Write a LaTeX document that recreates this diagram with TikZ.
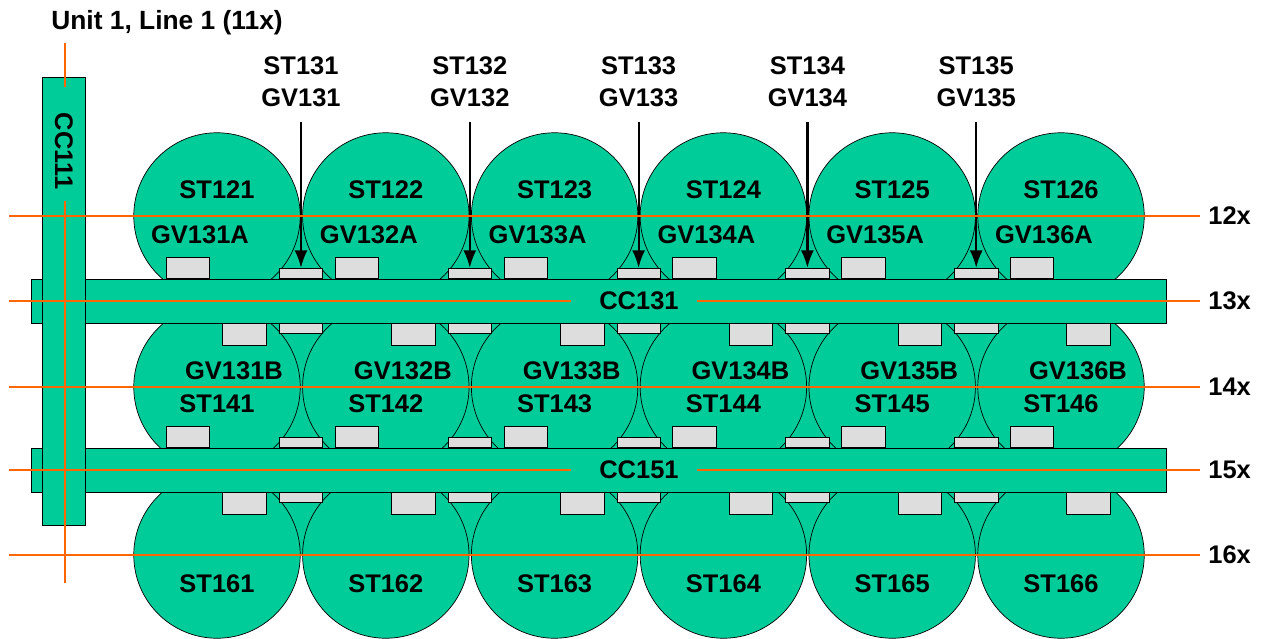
\documentclass[tikz,border=0pt]{standalone}
\usepackage{fontspec}
\setmainfont{Liberation Sans}
\usetikzlibrary{arrows.meta}
\definecolor{tankgreen}{HTML}{00CC99}
\definecolor{wireorange}{HTML}{FF6600}
\definecolor{valvegrey}{HTML}{DDDDDD}
\tikzset{line width=1.25pt,
  every node/.style={font=\bfseries\fontsize{14.5pt}{18pt}\selectfont,inner sep=0pt},
  tank/.style={circle,draw=black,fill=tankgreen,minimum size=3.33cm},
  valve/.style={draw=black,fill=valvegrey,minimum width=.87cm,minimum height=.43cm},
  smallvalve/.style={draw=black,fill=valvegrey,minimum width=.87cm,minimum height=.21cm},
  bar/.style={draw=black,fill=tankgreen,minimum width=22.7cm,minimum height=.88cm},
  column/.style={draw=black,fill=tankgreen,minimum width=.87cm,minimum height=8.96cm},
  wire/.style={draw=wireorange,line width=1.4pt},
  feed/.style={-{Latex[length=10pt,width=7.4pt]},line width=1.25pt}}
\begin{document}
\begin{tikzpicture}[x=.02cm,y=-.02cm]
\path[use as bounding box] (0,0) rectangle (1265,639);
% green between the tanks
\foreach \i in {1,...,5}{
  \pgfmathsetmacro\cx{301.5+168.8*(\i-1)}
  \fill[tankgreen] (\cx-30,216) rectangle (\cx+30,555);
}
% tanks
\foreach \i in {1,...,6}{
  \pgfmathsetmacro\cx{217+168.8*(\i-1)}
  \node[tank] (t12\i) at (\cx,216) {};
  \node[tank] (t14\i) at (\cx,387) {};
  \node[tank] (t16\i) at (\cx,555) {};
}
% valves on the tanks
\foreach \i in {1,...,6}{
  \pgfmathsetmacro\cx{188+168.8*(\i-1)}
  \pgfmathsetmacro\dx{244.5+168.8*(\i-1)}
  \node[valve] (va\i) at (\cx,268) {};
  \node[valve] (vb\i) at (\dx,334.5) {};
  \node[valve] (vc\i) at (\cx,437) {};
  \node[valve] (vd\i) at (\dx,503.5) {};
}
% valves between the tanks and the feeds
\foreach \i in {1,...,5}{
  \pgfmathsetmacro\cx{301+168.8*(\i-1)}
  \node[smallvalve] (sa\i) at (\cx,273.5) {};
  \node[smallvalve] (sb\i) at (\cx,328.5) {};
  \node[smallvalve] (sc\i) at (\cx,442.5) {};
  \node[smallvalve] (sd\i) at (\cx,497.5) {};
  \node[align=center] (feedtag\i) at (\cx,82) {ST13\i\\GV13\i};
  \coordinate (feedtop\i) at (\cx,122);
  \draw[feed] (feedtop\i) -- (sa\i.north);
}
% bars
\node[bar] (cc131) at (599,301) {};
\node[bar] (cc151) at (599,470) {};
\node[column] (cc111) at (64,301.5) {};
% tank and valve tags
\foreach \i in {1,...,6}{
  \pgfmathsetmacro\cx{217+168.8*(\i-1)}
  \pgfmathsetmacro\ax{200+168.8*(\i-1)}
  \pgfmathsetmacro\bx{234+168.8*(\i-1)}
  \node (tag12\i) at (\cx,190) {ST12\i};
  \node (tag14\i) at (\cx,404) {ST14\i};
  \node (tag16\i) at (\cx,584) {ST16\i};
  \node (taga\i) at (\ax,235) {GV13\i A};
  \node (tagb\i) at (\bx,371) {GV13\i B};
}
\node[anchor=west,font=\bfseries\fontsize{15pt}{18pt}\selectfont] (unit) at (51,23) {Unit 1, Line 1 (11x)};
\node[rotate=-90] (cc111tag) at (64,151) {CC111};
\node[inner xsep=.36cm,inner ysep=2pt] (cc131tag) at (634,301) {\hspace{.2cm}CC131};
\node[inner xsep=.36cm,inner ysep=2pt] (cc151tag) at (634,470) {\hspace{.2cm}CC151};
% row wires
\foreach \n/\y in {12/216,13/301,14/387,15/470,16/555}{
  \coordinate (west\n) at (9,\y);
  \node[anchor=west,inner xsep=.16cm] (row\n) at (1200,\y) {\n x};
}
\draw[wire] (west12) -- (row12.west);
\draw[wire] (west14) -- (row14.west);
\draw[wire] (west16) -- (row16.west);
\draw[wire] (west13) -- (cc131tag.west) (cc131tag.east) -- (row13.west);
\draw[wire] (west15) -- (cc151tag.west) (cc151tag.east) -- (row15.west);
% column wire
\coordinate (coltop) at (65,43);
\coordinate (colstop) at (65,87);
\coordinate (colstart) at (65,201);
\coordinate (colend) at (65,583);
\draw[wire] (coltop) -- (colstop) (colstart) -- (colend);
\end{tikzpicture}
\end{document}
